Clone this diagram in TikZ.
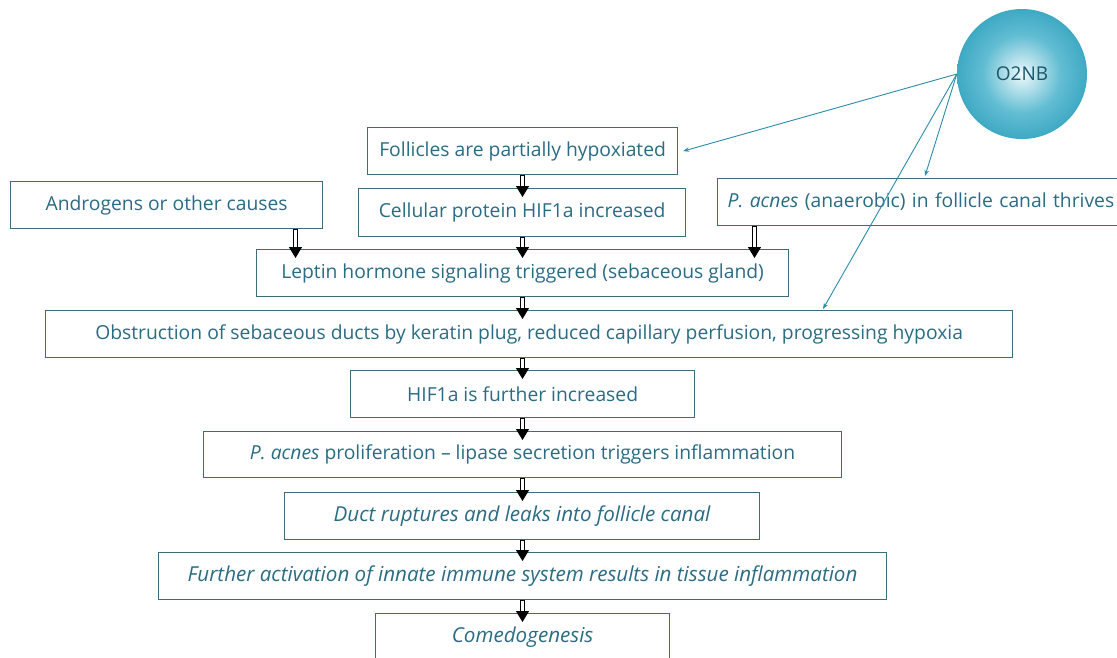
\documentclass[tikz,border=0pt]{standalone}
\usepackage{fontspec}
\setmainfont{Open Sans}
\usetikzlibrary{arrows.meta,calc}
\definecolor{txt}{HTML}{2A6C84}
\definecolor{bord}{HTML}{3F6C7A}
\definecolor{blu}{HTML}{2A8CAA}
\definecolor{circin}{HTML}{EEF9FB}
\definecolor{circmid}{HTML}{62BDD3}
\definecolor{circout}{HTML}{1793B2}
\definecolor{circedge}{HTML}{1383A2}
\definecolor{otxt}{HTML}{1B566A}
\pgfdeclareradialshading{orb}{\pgfpoint{0bp}{0bp}}{color(0bp)=(circin); color(15bp)=(circmid); color(36bp)=(circout); color(50bp)=(circedge)}
\tikzset{
  box/.style 2 args={draw=bord, line width=1.2pt, text=txt, inner sep=0pt,
    font=\fontsize{19.3}{22}\selectfont, anchor=north west,
    minimum width=#1, minimum height=#2},
  itbox/.style={font=\fontsize{20.6}{24}\selectfont\itshape},
  dblarr/.style={draw=black, line width=0.9pt, -{Triangle[length=11pt,width=13pt]},
    preaction={draw=black, -, line width=4.8pt, shorten >=10.5pt},
    postaction={draw=white, -, line width=2.6pt, shorten >=11.5pt, shorten <=0.7pt}},
  bluarr/.style={draw=blu, line width=0.9pt, -{Stealth[length=6pt,width=4.5pt]}}
}
\begin{document}
\begin{tikzpicture}[x=1pt,y=-1pt]
\useasboundingbox (0,0) rectangle (1117,657);
\clip (0,0) rectangle (1117,657);
\fill[white] (0,0) rectangle (1117,657);

\node[box={310pt}{47pt}] (fol) at (367,127) {Follicles are partially hypoxiated};
\node[box={327pt}{48pt}] (cel) at (358,188) {Cellular protein HIF1a increased};
\node[box={312pt}{47pt}] (and) at (10,181) {Androgens or other causes};
\node[box={413pt}{47pt}, inner xsep=10pt, text width=393pt, align=left] (pac) at (717,178) {\textit{P. acnes} (anaerobic) in follicle canal thrives};
\node[box={532pt}{47pt}] (lep) at (256,249) {Leptin hormone signaling triggered (sebaceous gland)};
\node[box={967pt}{47pt}] (obs) at (45,310) {Obstruction of sebaceous ducts by keratin plug, reduced capillary perfusion, progressing hypoxia};
\node[box={344pt}{47pt}] (hif) at (350,370) {HIF1a is further increased};
\node[box={638pt}{46pt}] (pro) at (203,431) {\textit{P. acnes} proliferation -- lipase secretion triggers inflammation};
\node[box={475pt}{47pt}, itbox] (duc) at (284,492) {Duct ruptures and leaks into follicle canal};
\node[box={728pt}{47pt}, itbox] (fur) at (158,552) {Further activation of innate immune system results in tissue inflammation};
\node[box={294pt}{48pt}, itbox] (com) at (375,613) {Comedogenesis};

\node[circle, minimum size=130pt, inner sep=0pt, shading=orb, text=otxt,
  font=\fontsize{19}{22}\selectfont] (o2) at (1022,74) {O2NB};

\coordinate (ax) at (522.5,0);
\coordinate (axa) at (295.5,0);
\coordinate (axp) at (754.5,0);
\coordinate (tp) at (925,0);
\coordinate (to) at (823,0);

\draw[dblarr] (fol.south -| ax) -- ($(cel.north -| ax)+(0,9)$);
\draw[dblarr] (cel.south -| ax) -- ($(lep.north -| ax)+(0,9)$);
\draw[dblarr] (and.south -| axa) -- ($(lep.north -| axa)+(0,9)$);
\draw[dblarr] (pac.south -| axp) -- ($(lep.north -| axp)+(0,9)$);
\draw[dblarr] (lep.south -| ax) -- ($(obs.north -| ax)+(0,9)$);
\draw[dblarr] (obs.south -| ax) -- ($(hif.north -| ax)+(0,9)$);
\draw[dblarr] (hif.south -| ax) -- ($(pro.north -| ax)+(0,9)$);
\draw[dblarr] (pro.south -| ax) -- ($(duc.north -| ax)+(0,9)$);
\draw[dblarr] (duc.south -| ax) -- ($(fur.north -| ax)+(0,9)$);
\draw[dblarr] (fur.south -| ax) -- ($(com.north -| ax)+(0,9)$);

\draw[bluarr] (o2.west) -- ($(fol.east)+(5,0)$);
\draw[bluarr] (o2.west) -- ($(pac.north -| tp)+(0,-2)$);
\draw[bluarr] (o2.west) -- ($(obs.north -| to)+(0,-1)$);
\end{tikzpicture}
\end{document}
